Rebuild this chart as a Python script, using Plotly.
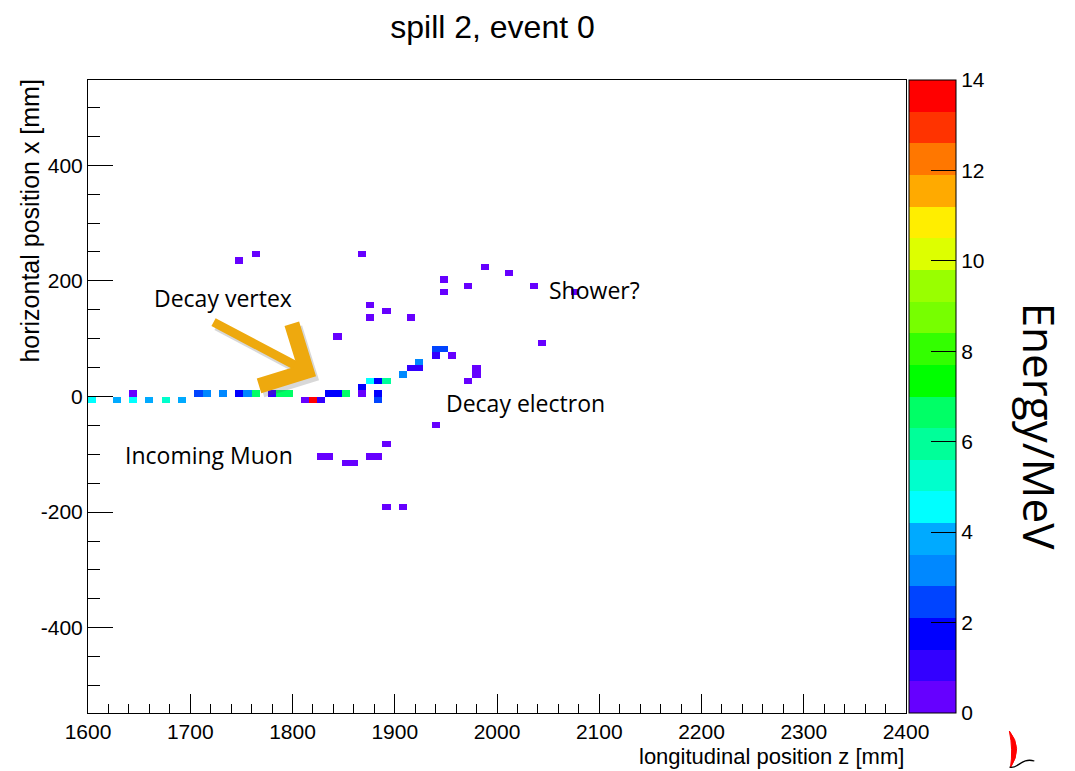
import numpy as np
import plotly.graph_objects as go

# ---------------- data ----------------
# histogram binning (100 x 100 bins)
z_lo, z_hi, n_z = 1600.0, 2400.0, 100
x_lo, x_hi, n_x = -547.5, 547.5, 100

# hit cells: longitudinal z centre [mm], horizontal x centre [mm], energy [MeV]
hit_z = [1604, 1628, 1644, 1660, 1676, 1692, 1812, 1820, 1828, 1884,
         1644, 1708, 1716, 1732, 1748, 1756, 1764, 1780, 1788, 1796,
         1836, 1844, 1852, 1868, 1884,
         1868,
         1876, 1884, 1892, 1972,
         1908, 1980,
         1916, 1924, 1980,
         1924,
         1940, 1956,
         1940, 1948,
         2044,
         1844,
         1876, 1916,
         1892,
         1876,
         1948, 2076,
         1972, 2036,
         1948,
         2012,
         1988,
         1748,
         1764, 1868,
         1940,
         1892,
         1828, 1836, 1876, 1884,
         1852, 1860,
         1892, 1908]
hit_x = [-5, -5, -5, -5, -5, -5, -5, -5, -5, -5,
         5, 5, 5, 5, 5, 5, 5, 5, 5, 5,
         5, 5, 5, 5, 5,
         16,
         27, 27, 27, 27,
         38, 38,
         49, 49, 49,
         60,
         71, 71,
         82, 82,
         93,
         104,
         137, 137,
         148,
         159,
         181, 181,
         192, 192,
         203,
         214,
         224,
         235,
         246, 246,
         -49,
         -82,
         -104, -104, -104, -104,
         -115, -115,
         -192, -192]
hit_e = [4.5, 3.9, 4.5, 3.9, 5.2, 3.9, 0.4, 13.7, 1.0, 2.6,
         0.4, 2.4, 3.2, 3.2, 1.8, 3.2, 6.6, 1.0, 6.6, 6.6,
         2.0, 2.0, 6.6, 0.4, 1.5,
         1.8,
         4.5, 2.0, 6.0, 0.4,
         3.2, 0.4,
         1.0, 1.0, 0.4,
         3.2,
         1.0, 0.4,
         2.4, 2.3,
         0.4,
         0.4,
         0.4, 0.4,
         0.4,
         0.4,
         0.4, 0.4,
         0.4, 0.4,
         0.4,
         0.4,
         0.4,
         0.4,
         0.4, 0.4,
         0.4,
         0.4,
         0.4, 0.4, 0.4, 0.4,
         0.4, 0.4,
         0.4, 0.4]

# colour palette: 20 contour levels between 0 and 14 MeV
palette = ["#6600ff", "#3300ff", "#0000ff", "#0044ff", "#0088ff",
           "#00aaff", "#00ffff", "#00ffcc", "#00ff99", "#00ff66",
           "#00ff00", "#33ff00", "#77ff00", "#99ff00", "#ddff00",
           "#ffee00", "#ffaa00", "#ff7700", "#ff3300", "#ff0000"]
e_min, e_max = 0, 14
cbar_ticks = [0, 2, 4, 6, 8, 10, 12, 14]

x_ticks = [1600, 1700, 1800, 1900, 2000, 2100, 2200, 2300, 2400]
y_ticks = [-400, -200, 0, 200, 400]
y_tick_text = ["-400", "-200", "0", "200", "400"]

title_text = "spill 2, event 0"
x_title = "longitudinal position z [mm]"
y_title = "horizontal position x [mm]"
cbar_title = "Energy/MeV"
labels = ["Decay vertex", "Shower?", "Decay electron", "Incoming Muon"]

# ---------------- build histogram ----------------
dz = (z_hi - z_lo) / n_z
dx = (x_hi - x_lo) / n_x
z_cent = z_lo + (np.arange(n_z) + 0.5) * dz
x_cent = x_lo + (np.arange(n_x) + 0.5) * dx
grid = np.full((n_x, n_z), np.nan)
iz = np.floor((np.array(hit_z) - z_lo) / dz).astype(int)
ix = np.floor((np.array(hit_x) - x_lo) / dx).astype(int)
grid[ix, iz] = hit_e

nb = len(palette)
cscale = []
for i, c in enumerate(palette):
    cscale.append([i / nb, c])
    cscale.append([(i + 1) / nb, c])

# ---------------- layout geometry (pixels) ----------------
W, H = 1075, 771
L, R, T, B = 87.5, 906.5, 80, 713


def pxx(x):
    return (x - L) / (R - L)


def pyy(y):
    return (B - y) / (B - T)


SANS = "Liberation Sans, Arial, sans-serif"
CAL = "Open Sans, Lato, sans-serif"

fig = go.Figure()
fig.add_trace(go.Heatmap(
    x=z_cent, y=x_cent, z=grid, zmin=e_min, zmax=e_max,
    colorscale=cscale, zsmooth=False, hoverongaps=False,
    colorbar=dict(
        x=pxx(910), xanchor="left", xpad=0, y=0.5, yanchor="middle", ypad=0,
        len=1, lenmode="fraction", thickness=47, thicknessmode="pixels",
        outlinewidth=1, outlinecolor="black",
        tickmode="array", tickvals=cbar_ticks,
        ticks="inside", ticklen=25, tickwidth=1, tickcolor="black",
        tickfont=dict(family=SANS, size=21, color="black"),
    ),
))

fig.update_layout(
    width=W, height=H,
    margin=dict(l=L, r=W - R, t=T, b=H - B, pad=0),
    paper_bgcolor="white", plot_bgcolor="white",
    showlegend=False,
    title=dict(text=title_text, x=492.5 / W, xref="container", xanchor="center",
               y=1 - 27 / H, yref="container", yanchor="middle",
               font=dict(family=SANS, size=32, color="black")),
    xaxis=dict(range=[z_lo, z_hi], tickmode="array", tickvals=x_ticks,
               ticks="inside", ticklen=19, tickwidth=1, tickcolor="black",
               showline=True, linecolor="black", linewidth=1, mirror=True,
               showgrid=False, zeroline=False,
               tickfont=dict(family=SANS, size=21, color="black"),
               minor=dict(tick0=1600, dtick=20, ticks="inside", ticklen=9,
                          tickcolor="black", tickwidth=1, showgrid=False)),
    yaxis=dict(range=[x_lo, x_hi], tickmode="array", tickvals=y_ticks,
               ticktext=y_tick_text,
               ticks="inside", ticklen=25, tickwidth=1, tickcolor="black",
               showline=True, linecolor="black", linewidth=1, mirror=True,
               showgrid=False, zeroline=False,
               tickfont=dict(family=SANS, size=21, color="black"),
               minor=dict(tick0=0, dtick=50, ticks="inside", ticklen=12,
                          tickcolor="black", tickwidth=1, showgrid=False)),
)

ann = []
# axis titles
ann.append(dict(text=x_title, xref="paper", yref="paper", x=1, xanchor="right",
                y=pyy(757), yanchor="middle", showarrow=False,
                font=dict(family=SANS, size=22, color="black")))
ann.append(dict(text=y_title, xref="paper", yref="paper", x=pxx(29), xanchor="center",
                y=pyy(221), yanchor="middle", textangle=-90, showarrow=False,
                font=dict(family=SANS, size=25, color="black")))
# colour bar title
ann.append(dict(text=cbar_title, xref="paper", yref="paper", x=pxx(1041), xanchor="center",
                y=pyy(426), yanchor="middle", textangle=90, showarrow=False,
                font=dict(family=CAL, size=44, color="black")))
# labels
lab_pos = [(152, 298), (547, 290), (444, 403), (123, 455)]
for t, (lx, ly) in zip(labels, lab_pos):
    ann.append(dict(text=t, xref="paper", yref="paper", x=pxx(lx), xanchor="left",
                    y=pyy(ly), yanchor="middle", showarrow=False,
                    font=dict(family=CAL, size=23, color="black")))

# arrow (decay vertex)
tail = (1721.3, 130.0)
tip = (1823.0, 35.0)
ann.append(dict(x=tip[0], y=tip[1], ax=tail[0], ay=tail[1], xref="x", yref="y",
                axref="x", ayref="y", text="", showarrow=True, arrowhead=4,
                arrowsize=1.5, arrowwidth=9, arrowcolor="rgba(80,80,80,0.22)",
                xshift=3, yshift=-4, standoff=0))
ann.append(dict(x=tip[0], y=tip[1], ax=tail[0], ay=tail[1], xref="x", yref="y",
                axref="x", ayref="y", text="", showarrow=True, arrowhead=4,
                arrowsize=1.5, arrowwidth=9, arrowcolor="#EEA90E", standoff=0))
fig.update_layout(annotations=ann)

shapes = []
# highlight line on the arrow shaft
shapes.append(dict(type="line", xref="paper", yref="paper",
                   x0=pxx(213), y0=pyy(325), x1=pxx(286), y1=pyy(363),
                   line=dict(color="rgba(235,235,235,0.9)", width=1.5)))


def path(points, close=False):
    s = ""
    for cmd, pts in points:
        s += cmd + " ".join(f"{pxx(a):.5f},{pyy(b):.5f}" for a, b in pts) + " "
    return s + ("Z" if close else "")


# small logo at bottom right
shapes.append(dict(type="path", xref="paper", yref="paper",
                   path=path([("M", [(1010, 731)]), ("Q", [(1024, 748), (1011, 768)]),
                              ("Q", [(1014, 750), (1010, 731)])], close=True),
                   fillcolor="red", line=dict(color="red", width=1)))
shapes.append(dict(type="path", xref="paper", yref="paper",
                   path=path([("M", [(1010, 767)]), ("C", [(1018, 770), (1022, 757), (1035, 761)])]),
                   line=dict(color="black", width=1.3)))
fig.update_layout(shapes=shapes)

fig.write_html("out.html")
